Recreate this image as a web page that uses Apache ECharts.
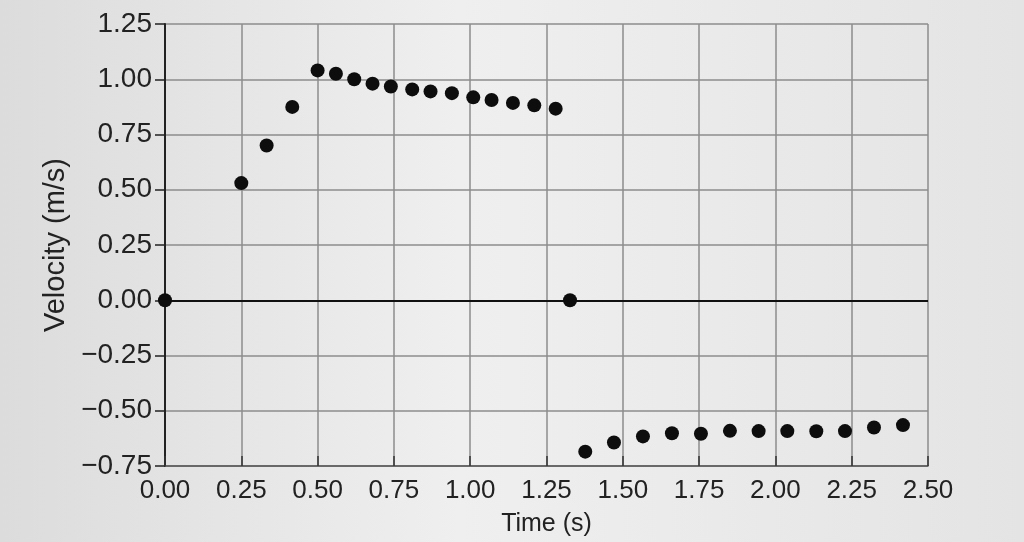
<!DOCTYPE html>
<html>
<head>
<meta charset="utf-8">
<script src="https://cdn.jsdelivr.net/npm/echarts@6/dist/echarts.min.js"></script>
<style>
  html, body { margin: 0; padding: 0; }
  #chart { width: 1024px; height: 542px; }
</style>
</head>
<body>
<div id="chart"></div>
<script>
  // 读图得到的数据
  var times = [0.00, 0.25, 0.333, 0.417, 0.50, 0.56, 0.62, 0.68, 0.74, 0.81, 0.87, 0.94, 1.01, 1.07, 1.14, 1.21, 1.28,
               1.327, 1.377, 1.471, 1.566, 1.661, 1.756, 1.851, 1.945, 2.039, 2.134, 2.228, 2.323, 2.418];
  var velocities = [0.00, 0.53, 0.70, 0.875, 1.04, 1.025, 1.00, 0.98, 0.967, 0.954, 0.945, 0.937, 0.918, 0.906, 0.893, 0.882, 0.867,
                    0.00, -0.685, -0.644, -0.616, -0.602, -0.604, -0.591, -0.592, -0.592, -0.593, -0.592, -0.576, -0.565];
  var xTicks = [0, 0.25, 0.5, 0.75, 1, 1.25, 1.5, 1.75, 2, 2.25, 2.5];
  var yTicks = [-0.75, -0.5, -0.25, 0, 0.25, 0.5, 0.75, 1, 1.25];

  var points = times.map(function (t, i) { return [t, velocities[i]]; });

  function fmt(v) {
    return v.toFixed(2).replace('-', '\u2212');
  }

  var chart = echarts.init(document.getElementById('chart'));
  chart.setOption({
    animation: false,
    backgroundColor: {
      type: 'linear', x: 0, y: 0, x2: 1, y2: 0,
      colorStops: [
        {offset: 0, color: '#dcdcdc'},
        {offset: 0.45, color: '#efefef'},
        {offset: 1, color: '#e4e4e4'}
      ]
    },
    textStyle: {fontFamily: 'Liberation Sans, Arial, sans-serif'},
    grid: {left: 165, right: 96, top: 24, bottom: 74},
    xAxis: {
      type: 'value',
      min: xTicks[0],
      max: xTicks[xTicks.length - 1],
      interval: 0.25,
      name: 'Time (s)',
      nameLocation: 'middle',
      nameGap: 46,
      nameTextStyle: {fontSize: 25, color: '#222'},
      axisLine: {show: true, onZero: false, lineStyle: {color: '#555', width: 1.5}},
      axisTick: {show: true, inside: true, length: 10, lineStyle: {color: '#333', width: 1.5}},
      axisLabel: {fontSize: 26, color: '#222', margin: 12, formatter: fmt},
      splitLine: {show: true, lineStyle: {color: '#8c8c8c', width: 1.5}}
    },
    yAxis: {
      type: 'value',
      min: yTicks[0],
      max: yTicks[yTicks.length - 1],
      interval: 0.25,
      name: 'Velocity (m/s)',
      nameLocation: 'middle',
      nameGap: 88,
      nameTextStyle: {fontSize: 29, color: '#222'},
      axisLine: {show: true, onZero: false, lineStyle: {color: '#222', width: 2}},
      axisTick: {show: true, length: 10, lineStyle: {color: '#222', width: 1.5}},
      axisLabel: {fontSize: 28, color: '#222', margin: 13, formatter: fmt},
      splitLine: {show: true, lineStyle: {color: '#8c8c8c', width: 1.5}}
    },
    series: [{
      type: 'scatter',
      data: points,
      symbol: 'circle',
      symbolSize: 14,
      itemStyle: {color: '#0d0d0d', opacity: 1},
      markLine: {
        silent: true,
        symbol: 'none',
        label: {show: false},
        lineStyle: {color: '#111', width: 1.8, type: 'solid'},
        data: [{yAxis: 0}]
      },
      z: 5
    }]
  });
</script>
</body>
</html>
